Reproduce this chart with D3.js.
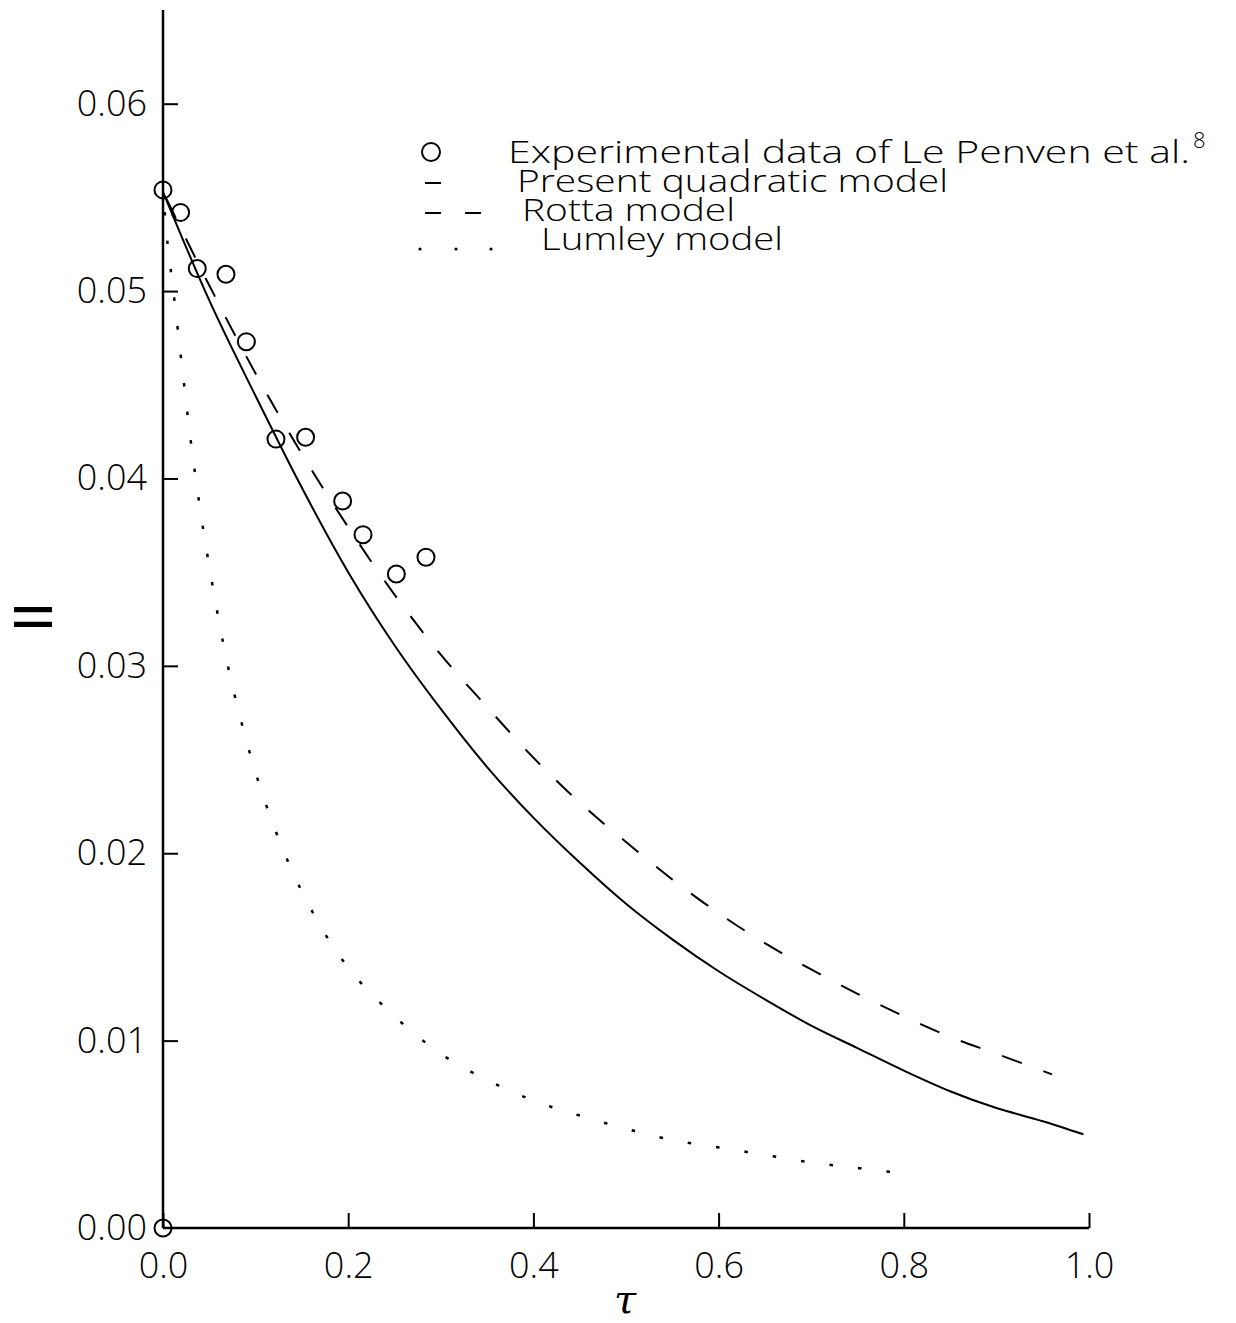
<!DOCTYPE html>
<html>
<head>
<meta charset="utf-8">
<script src="https://cdn.jsdelivr.net/npm/d3@7"></script>
<style>
  body { margin: 0; background: #fff; }
  svg text { font-family: "Open Sans", "DejaVu Sans", sans-serif; font-weight: 300; fill: #000; }
</style>
</head>
<body>
<div id="chart"></div>
<script>
// Anisotropy invariant decay

// experimental points (Le Penven et al.)
const expT = [0.0, 0.0, 0.019, 0.037, 0.068, 0.090, 0.122, 0.154, 0.194, 0.216, 0.252, 0.284];
const expII = [0.0, 0.0554, 0.0542, 0.0512, 0.0509, 0.0473, 0.0421, 0.0422, 0.0388, 0.0370, 0.0349, 0.0358];

// present quadratic model (solid)
const quadT = [0, 0.05, 0.1, 0.15, 0.2, 0.25, 0.3, 0.35, 0.4, 0.45, 0.5, 0.55, 0.6, 0.65, 0.7, 0.75, 0.8, 0.85, 0.9, 0.95, 0.994];
const quadII = [0.0553, 0.0495, 0.0444, 0.0395, 0.0350, 0.0311, 0.0277, 0.0246, 0.0219, 0.0195, 0.0173, 0.0154, 0.0137, 0.0122, 0.0108, 0.0096, 0.0084, 0.0073, 0.0064, 0.0057, 0.0050];

// Rotta model (dashed)
const rottaT = [0, 0.05, 0.1, 0.15, 0.2, 0.25, 0.3, 0.35, 0.4, 0.45, 0.5, 0.55, 0.6, 0.65, 0.7, 0.75, 0.8, 0.85, 0.9, 0.96];
const rottaII = [0.0553, 0.0503, 0.0456, 0.0413, 0.0374, 0.0338, 0.0306, 0.0278, 0.0251, 0.0227, 0.0206, 0.0186, 0.0168, 0.0152, 0.0138, 0.0125, 0.0113, 0.0102, 0.0093, 0.0082];

// Lumley model (dotted)
const lumT = [0, 0.005, 0.01, 0.02, 0.03, 0.04, 0.05, 0.06, 0.07, 0.08, 0.1, 0.12, 0.14, 0.16, 0.18, 0.2, 0.25, 0.3, 0.35, 0.4, 0.45, 0.5, 0.55, 0.6, 0.65, 0.7, 0.75, 0.785];
const lumII = [0.0553, 0.0525, 0.0505, 0.0462, 0.0420, 0.0384, 0.0353, 0.0325, 0.0300, 0.0279, 0.0243, 0.0214, 0.0190, 0.0170, 0.0153, 0.0139, 0.0113, 0.0093, 0.0079, 0.0068, 0.0060, 0.0053, 0.0047, 0.0043, 0.0039, 0.0035, 0.0032, 0.0030];

const xTicks = [0, 0.2, 0.4, 0.6, 0.8, 1.0];
const yTicks = [0, 0.01, 0.02, 0.03, 0.04, 0.05, 0.06];

const legendLabels = ["Experimental data of Le Penven et al.", "Present quadratic model", "Rotta model", "Lumley model"];

const W = 1236, H = 1323;
const svg = d3.select("#chart").append("svg")
    .attr("width", W).attr("height", H)
    .attr("viewBox", "0 0 " + W + " " + H);

const x = d3.scaleLinear().domain([0, 1]).range([163, 1089]);
const y = d3.scaleLinear().domain([0, 0.065]).range([1228, 10]);

// axes
const xAxis = d3.axisBottom(x).tickValues(xTicks).tickSize(-15).tickPadding(24)
    .tickFormat(d3.format(".1f"));
const gx = svg.append("g").attr("transform", "translate(0," + y(0) + ")").call(xAxis);
gx.select(".domain").attr("stroke-width", 2.5).attr("d", "M" + x(0) + ",0H" + x(1));
gx.selectAll(".tick line").attr("stroke-width", 2);
gx.selectAll(".tick text").attr("font-size", 36).attr("dy", "0.71em");

const yAxis = d3.axisLeft(y).tickValues(yTicks).tickSize(-15).tickPadding(16)
    .tickFormat(d3.format(".2f"));
const gy = svg.append("g").attr("transform", "translate(" + x(0) + ",0)").call(yAxis);
gy.select(".domain").attr("stroke-width", 2.5).attr("d", "M0," + y(0.065) + "V" + y(0));
gy.selectAll(".tick line").attr("stroke-width", 2);
gy.selectAll(".tick text").attr("font-size", 36);
gy.selectAll(".tick").filter(d => d === 0).select("line").remove();
svg.selectAll(".domain, .tick line").attr("stroke", "#000");

// axis titles
svg.append("text")
    .attr("x", x(0.5) - 12).attr("y", 1313)
    .attr("font-size", 40).attr("font-style", "italic")
    .style("font-family", "'DejaVu Serif', serif")
    .text("τ");

svg.append("text")
    .attr("transform", "translate(52,617) rotate(-90)")
    .attr("text-anchor", "middle")
    .attr("font-size", 54)
    .style("font-family", "Roboto, sans-serif").style("font-weight", "400")
    .text("II");

// curves
const line = d3.line().x(d => x(d[0])).y(d => y(d[1])).curve(d3.curveMonotoneX);
const zip = (a, b) => a.map((v, i) => [v, b[i]]);

svg.append("path").datum(zip(quadT, quadII))
    .attr("d", line).attr("fill", "none").attr("stroke", "#000").attr("stroke-width", 2);

svg.append("path").datum(zip(rottaT, rottaII))
    .attr("d", line).attr("fill", "none").attr("stroke", "#000").attr("stroke-width", 2)
    .attr("stroke-dasharray", "21,23").attr("stroke-dashoffset", -8);

// dotted line: pattern anchored so a dot sits at the end of the curve
const lum = svg.append("path").datum(zip(lumT, lumII))
    .attr("d", line).attr("fill", "none").attr("stroke", "#000").attr("stroke-width", 2.5)
    .attr("stroke-dasharray", "3.5,25.2");
const period = 28.7, lumLen = lum.node().getTotalLength();
lum.attr("stroke-dashoffset", ((3.5 - lumLen % period) % period + period) % period);

// experimental circles
svg.append("g").selectAll("circle")
    .data(zip(expT, expII))
    .join("circle")
    .attr("cx", d => x(d[0])).attr("cy", d => y(d[1])).attr("r", 8.5)
    .attr("fill", "none").attr("stroke", "#000").attr("stroke-width", 2);

// legend
const lg = svg.append("g");
lg.append("circle").attr("cx", 431).attr("cy", 152).attr("r", 9)
    .attr("fill", "none").attr("stroke", "#000").attr("stroke-width", 2);
lg.append("line").attr("x1", 425).attr("x2", 441).attr("y1", 183).attr("y2", 183)
    .attr("stroke", "#000").attr("stroke-width", 2);
[425, 465].forEach(sx => lg.append("line").attr("x1", sx).attr("x2", sx + 16)
    .attr("y1", 213).attr("y2", 213).attr("stroke", "#000").attr("stroke-width", 2));
[420, 456, 491].forEach(sx => lg.append("circle").attr("cx", sx).attr("cy", 249).attr("r", 1.6).attr("fill", "#000"));

// one text block, one line per entry
const legendPos = [[508, 163, 682], [517, 192, 431], [522, 221, 213], [541, 250, 242]];
const lt = lg.append("text").attr("font-size", 31);
lt.selectAll("tspan").data(legendLabels).join("tspan")
    .attr("x", (d, i) => legendPos[i][0]).attr("y", (d, i) => legendPos[i][1])
    .attr("textLength", (d, i) => legendPos[i][2]).attr("lengthAdjust", "spacingAndGlyphs")
    .text(d => d);
lt.append("tspan").attr("x", 1193).attr("y", 148).attr("font-size", 22).text("8");
</script>
</body>
</html>
